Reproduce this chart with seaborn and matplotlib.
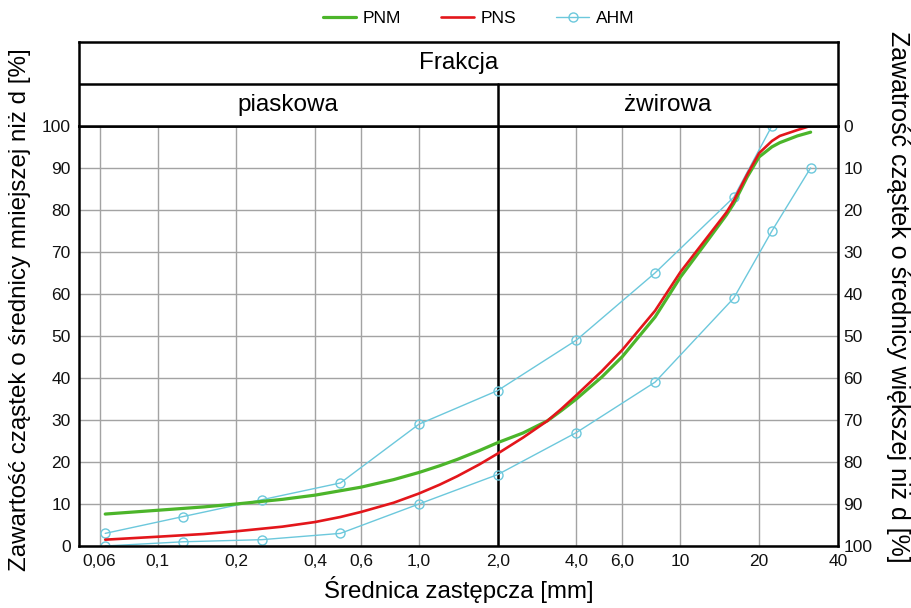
import numpy as np
import pandas as pd
import seaborn as sns
import matplotlib.pyplot as plt
from matplotlib.lines import Line2D

# Grain size curves
pnm_d = [0.063, 0.1, 0.15, 0.2, 0.3, 0.4, 0.6, 0.8, 1.0, 1.2, 1.4, 1.7, 2.0, 2.5, 3.1, 3.5, 4.0, 5.0, 6.0,
         8.0, 10.0, 12.6, 15.0, 16.0, 18.0, 20.0, 22.4, 24.0, 28.0, 31.5]
pnm_pct = [7.6, 8.5, 9.3, 10.0, 11.1, 12.1, 14.0, 15.8, 17.5, 19.1, 20.6, 22.7, 24.6, 26.9, 29.8, 32.2, 35.0, 40.2, 45.1,
           54.5, 64.0, 72.4, 78.8, 81.5, 87.8, 92.6, 95.0, 96.0, 97.6, 98.5]

pns_d = [0.063, 0.1, 0.15, 0.2, 0.3, 0.4, 0.5, 0.6, 0.8, 1.0, 1.2, 1.4, 1.7, 2.0, 2.5, 3.1, 3.5, 4.0, 5.0, 6.0,
         8.0, 10.0, 12.6, 15.0, 16.0, 18.0, 20.0, 22.4, 24.0, 28.0, 31.5]
pns_pct = [1.5, 2.2, 2.85, 3.5, 4.6, 5.7, 6.9, 8.1, 10.3, 12.5, 14.6, 16.6, 19.4, 22.0, 25.8, 29.8, 32.6, 35.9, 41.6, 46.7,
           56.0, 65.2, 73.3, 79.4, 82.2, 88.4, 93.5, 96.4, 97.6, 99.0, 100.0]

# AHM limits (upper and lower bound)
ahm_upper_d = [0.063, 0.125, 0.25, 0.5, 1.0, 2.0, 4.0, 8.0, 16.0, 22.4]
ahm_upper_pct = [3, 7, 11, 15, 29, 37, 49, 65, 83, 100]
ahm_lower_d = [0.063, 0.125, 0.25, 0.5, 1.0, 2.0, 4.0, 8.0, 16.0, 22.4, 31.5]
ahm_lower_pct = [0, 1, 1.5, 3, 10, 17, 27, 39, 59, 75, 90]

x_ticks = [0.06, 0.1, 0.2, 0.4, 0.6, 1.0, 2.0, 4.0, 6.0, 10, 20, 40]
x_tick_labels = ["0,06", "0,1", "0,2", "0,4", "0,6", "1,0", "2,0", "4,0", "6,0", "10", "20", "40"]

ahm = pd.concat([
    pd.DataFrame({"d": ahm_upper_d, "pct": ahm_upper_pct, "bound": "upper"}),
    pd.DataFrame({"d": ahm_lower_d, "pct": ahm_lower_pct, "bound": "lower"}),
])

green = "#4cb52a"
red = "#e3161b"
blue = "#6cc8dc"

sns.set_theme(style="white")
plt.rcParams['font.family'] = ['Liberation Sans', 'DejaVu Sans']
plt.rcParams['text.color'] = 'black'
plt.rcParams['axes.labelcolor'] = 'black'

fig = plt.figure(figsize=(9.12, 6.08), dpi=100)
ax = fig.add_axes([0.0866, 0.102, 0.832, 0.691])

sns.lineplot(data=ahm, x="d", y="pct", units="bound", estimator=None, sort=False,
             color=blue, lw=1.0, marker="o", markersize=6.5, markerfacecolor="none",
             markeredgecolor=blue, markeredgewidth=1.0, ax=ax)
sns.lineplot(x=pnm_d, y=pnm_pct, color=green, lw=2.3, sort=False, ax=ax)
sns.lineplot(x=pns_d, y=pns_pct, color=red, lw=1.9, sort=False, ax=ax)

ax.set_xscale("log")
ax.set_xlim(0.05, 40)
ax.set_ylim(0, 100)
ax.set_xticks(x_ticks)
ax.set_xticklabels(x_tick_labels)
ax.minorticks_off()
ax.set_yticks(range(0, 101, 10))
ax.grid(True, color="#a3a3a3", lw=1.0)
ax.axvline(2.0, color="black", lw=1.8, zorder=1)
ax.tick_params(axis="both", labelsize=12.5, length=0, pad=6, colors="#111111")
for s in ax.spines.values():
    s.set_color("black")
    s.set_linewidth(1.8)
ax.set_xlabel("Średnica zastępcza [mm]", fontsize=17.3, labelpad=5)
ax.set_ylabel("")

ax2 = ax.twinx()
ax2.set_ylim(100, 0)
ax2.set_yticks(range(0, 101, 10))
ax2.tick_params(axis="y", labelsize=12.5, length=0, pad=4, colors="#111111")
ax2.grid(False)
for s in ax2.spines.values():
    s.set_visible(False)

# axis titles placed as in the reference (not centred on the axes)
fig.text(20 / 912, 1 - 310 / 608, "Zawartość cząstek o średnicy mniejszej niż d [%]",
         rotation=90, ha="center", va="center", fontsize=17.4)
fig.text(898 / 912, 1 - 297 / 608, "Zawatrość cząstek o średnicy większej niż d [%]",
         rotation=270, ha="center", va="center", fontsize=18)

# header with fraction names
hd = fig.add_axes([0.0866, 0.793, 0.832, 0.138])
hd.set_xscale("log")
hd.set_xlim(0.05, 40)
hd.set_ylim(0, 2)
hd.set_xticks([])
hd.set_yticks([])
hd.minorticks_off()
hd.axhline(1.0, color="black", lw=1.8)
hd.plot([2.0, 2.0], [0, 1], color="black", lw=1.8)
for s in hd.spines.values():
    s.set_color("black")
    s.set_linewidth(1.8)
hd.text(0.5, 0.75, "Frakcja", transform=hd.transAxes, ha="center", va="center", fontsize=17.5)
hd.text(np.sqrt(0.05 * 2.0), 0.5, "piaskowa", ha="center", va="center", fontsize=17.5)
hd.text(np.sqrt(2.0 * 40), 0.5, "żwirowa", ha="center", va="center", fontsize=17.5)

handles = [
    Line2D([], [], color=green, lw=2.3),
    Line2D([], [], color=red, lw=1.9),
    Line2D([], [], color=blue, lw=1.0, marker="o", markersize=6.5,
           markerfacecolor="none", markeredgecolor=blue),
]
fig.legend(handles, ["PNM", "PNS", "AHM"], loc="center", bbox_to_anchor=(0.525, 0.97),
           ncol=3, frameon=False, fontsize=12.5, handlelength=1.9, columnspacing=2.3,
           handletextpad=0.4)

fig.savefig("out.png", dpi=100)
